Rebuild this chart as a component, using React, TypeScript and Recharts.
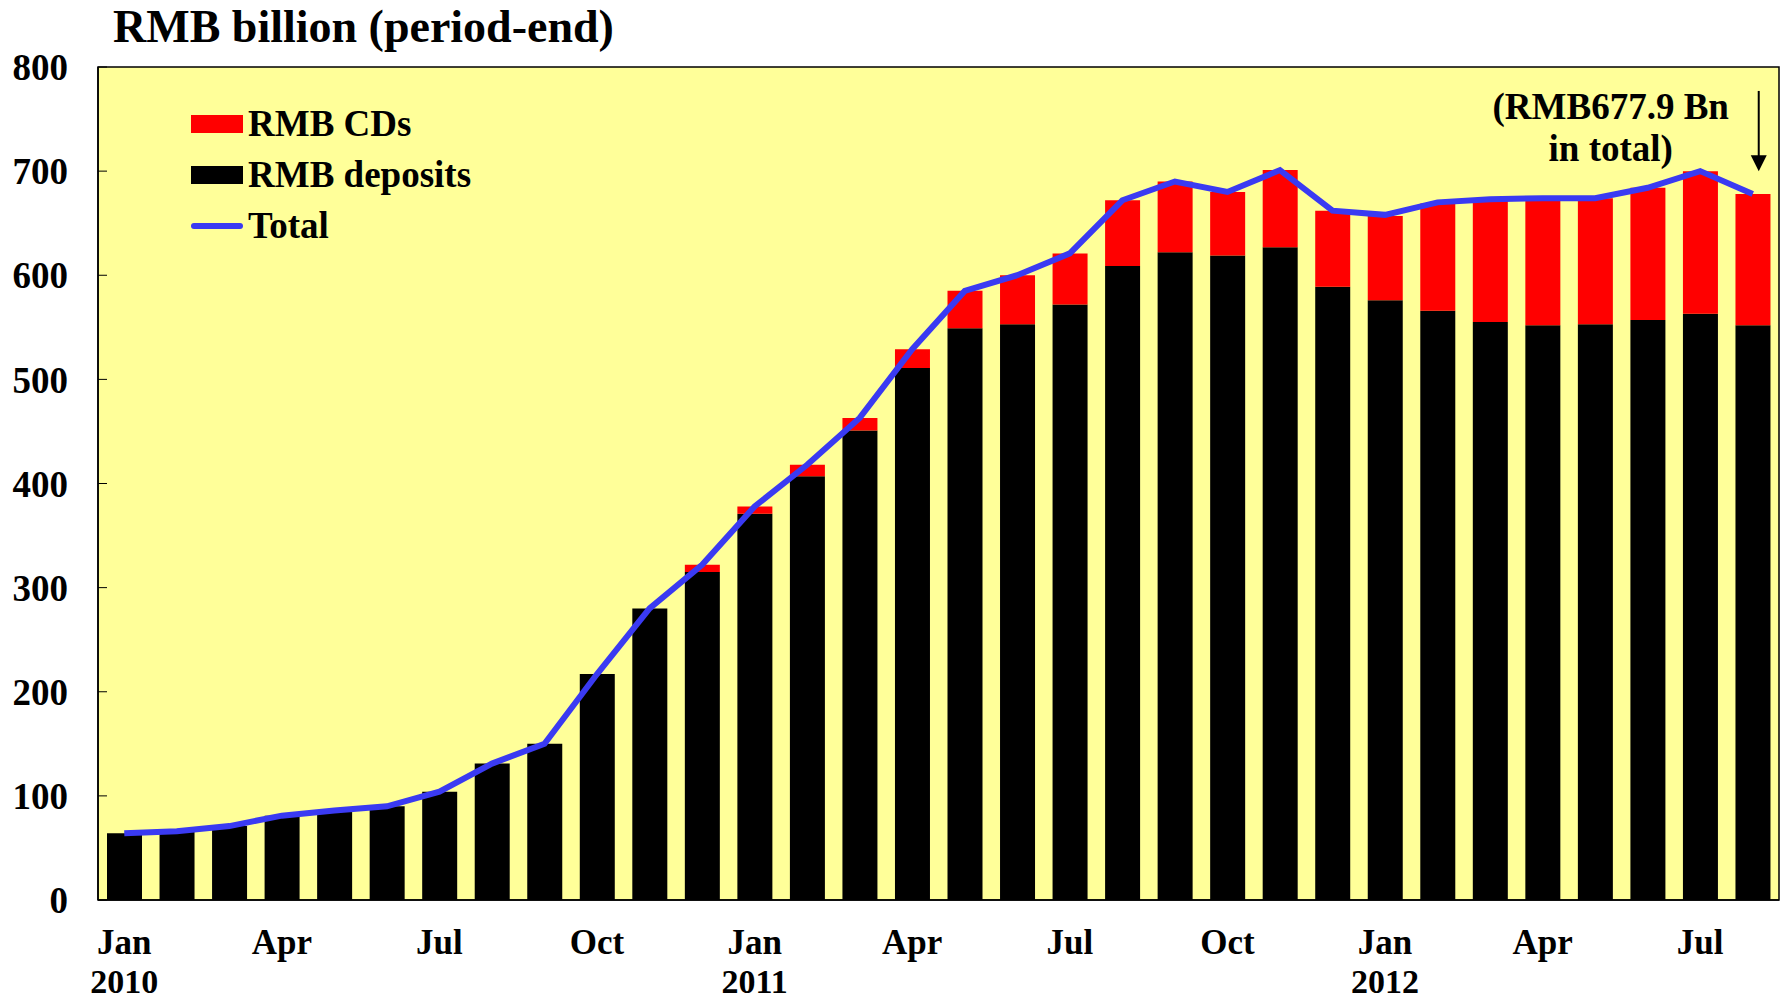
import React from "react";
import { Bar, CartesianGrid, ComposedChart, Legend, Line, ReferenceArea, ReferenceLine, XAxis, YAxis } from "recharts";

const months = [
  "Jan 2010", "Feb 2010", "Mar 2010", "Apr 2010", "May 2010", "Jun 2010", "Jul 2010", "Aug 2010", "Sep 2010", "Oct 2010", "Nov 2010", "Dec 2010",
  "Jan 2011", "Feb 2011", "Mar 2011", "Apr 2011", "May 2011", "Jun 2011", "Jul 2011", "Aug 2011", "Sep 2011", "Oct 2011", "Nov 2011", "Dec 2011",
  "Jan 2012", "Feb 2012", "Mar 2012", "Apr 2012", "May 2012", "Jun 2012", "Jul 2012", "Aug 2012",
];

const deposits = [64, 66, 71, 81, 85, 90, 104, 131, 150, 217, 280, 315, 371, 407, 451, 511, 549, 553, 572, 609, 622, 619, 627, 589, 576, 566, 555, 552, 553, 557, 563, 552];
const cds = [0, 0, 0, 0, 0, 0, 0, 0, 0, 0, 0, 7, 7, 11, 12, 18, 36, 47, 49, 63, 68, 61, 74, 73, 81, 103, 117, 121, 121, 127, 137, 126];
const totals = [64, 66, 71, 81, 86, 90, 104, 131, 150, 217, 280, 322, 378, 418, 463, 529, 585, 600, 621, 672, 690, 680, 701, 662, 658, 670, 673, 674, 674, 684, 700, 678];

const yTicks = [0, 100, 200, 300, 400, 500, 600, 700, 800];
const boundaryTicks = [6, 12, 18, 24, 30];

const FONT = "'Liberation Serif', 'Times New Roman', serif";

const chartData = months.map((month, i) => ({ month, deposits: deposits[i], cds: cds[i], total: totals[i] }));

function MonthTick(props: any) {
  const { x, y, payload } = props;
  const [mon, year] = String(payload.value).split(" ");
  if (!["Jan", "Apr", "Jul", "Oct"].includes(mon)) return null;
  return (
    <g>
      <text x={x} y={y + 54} textAnchor="middle" fontFamily={FONT} fontWeight="bold" fontSize={35} fill="#000">{mon}</text>
      {mon === "Jan" && <text x={x} y={y + 93} textAnchor="middle" fontFamily={FONT} fontWeight="bold" fontSize={34} fill="#000">{year}</text>}
    </g>
  );
}

function LegendBox() {
  const row = (swatch: React.ReactNode, label: string) => (
    <div style={{ display: "flex", alignItems: "center", height: 51 }}>
      <div style={{ width: 52, display: "flex", alignItems: "center" }}>{swatch}</div>
      <span style={{ marginLeft: 5, fontFamily: FONT, fontWeight: "bold", fontSize: 37, color: "#000", lineHeight: 1 }}>{label}</span>
    </div>
  );
  return (
    <div>
      {row(<div style={{ width: 52, height: 18, background: "#ff0000" }} />, "RMB CDs")}
      {row(<div style={{ width: 52, height: 18, background: "#000" }} />, "RMB deposits")}
      {row(<div style={{ width: 52, height: 6, borderRadius: 3, background: "#3a3af2" }} />, "Total")}
    </div>
  );
}

function NoteArrow(props: any) {
  const { x1, y1, y2 } = props;
  const ax = x1 + 6;
  return (
    <g>
      <line x1={ax} y1={y1} x2={ax} y2={y2 - 14} stroke="#000" strokeWidth={2} />
      <polygon points={`${ax - 8},${y2 - 16} ${ax + 8},${y2 - 16} ${ax},${y2}`} fill="#000" />
      <text x={x1 - 142} y={y1 + 28} textAnchor="middle" fontFamily={FONT} fontWeight="bold" fontSize={37} fill="#000">(RMB677.9 Bn</text>
      <text x={x1 - 142} y={y1 + 70} textAnchor="middle" fontFamily={FONT} fontWeight="bold" fontSize={37} fill="#000">in total)</text>
    </g>
  );
}

export default function App() {
  return (
    <div style={{ position: "absolute", left: 0, top: 0, width: 1784, height: 1001, background: "#fff" }}>
      <div style={{ position: "absolute", left: 113, top: 2, fontFamily: FONT, fontWeight: "bold", fontSize: 46, lineHeight: "50px", color: "#000" }}>
        RMB billion (period-end)
      </div>
      <ComposedChart width={1784} height={1001} data={chartData} margin={{ top: 67, right: 5, bottom: 0, left: 0 }}>
        <CartesianGrid horizontal={false} vertical={false} fill="#ffff99" fillOpacity={1} />
        <XAxis
          dataKey="month"
          interval={0}
          height={101}
          tickSize={0}
          tickMargin={0}
          axisLine={{ stroke: "#000", strokeWidth: 1.5 }}
          tick={<MonthTick />}
        />
        <XAxis
          xAxisId="bounds"
          type="number"
          domain={[0, 32]}
          ticks={boundaryTicks}
          allowDataOverflow
          height={0}
          axisLine={false}
          tick={false}
          tickSize={-9}
          tickLine={{ stroke: "#000", strokeWidth: 1 }}
        />
        <YAxis
          domain={[0, 800]}
          ticks={yTicks}
          width={98}
          tickSize={-9}
          tickMargin={39}
          axisLine={{ stroke: "#000", strokeWidth: 1.5 }}
          tickLine={{ stroke: "#000", strokeWidth: 1 }}
          tick={{ fontFamily: FONT, fontWeight: "bold", fontSize: 37, fill: "#000" }}
        />
        <ReferenceArea y1={0} y2={800} fill="none" stroke="#000" strokeWidth={1.5} ifOverflow="extendDomain" />
        <Legend
          layout="horizontal"
          verticalAlign="middle"
          align="center"
          content={() => <LegendBox />}
          wrapperStyle={{ left: 191, top: 98, width: 320, height: 160 }}
        />
        <Bar dataKey="deposits" name="RMB deposits" stackId="a" fill="#000000" barSize={35} isAnimationActive={false} />
        <Bar dataKey="cds" name="RMB CDs" stackId="a" fill="#ff0000" barSize={35} isAnimationActive={false} />
        <Line dataKey="total" name="Total" type="linear" stroke="#3a3af2" strokeWidth={6} dot={false} isAnimationActive={false} />
        <ReferenceLine segment={[{ x: "Aug 2012", y: 777 }, { x: "Aug 2012", y: 700 }]} shape={<NoteArrow />} ifOverflow="visible" />
      </ComposedChart>
    </div>
  );
}
